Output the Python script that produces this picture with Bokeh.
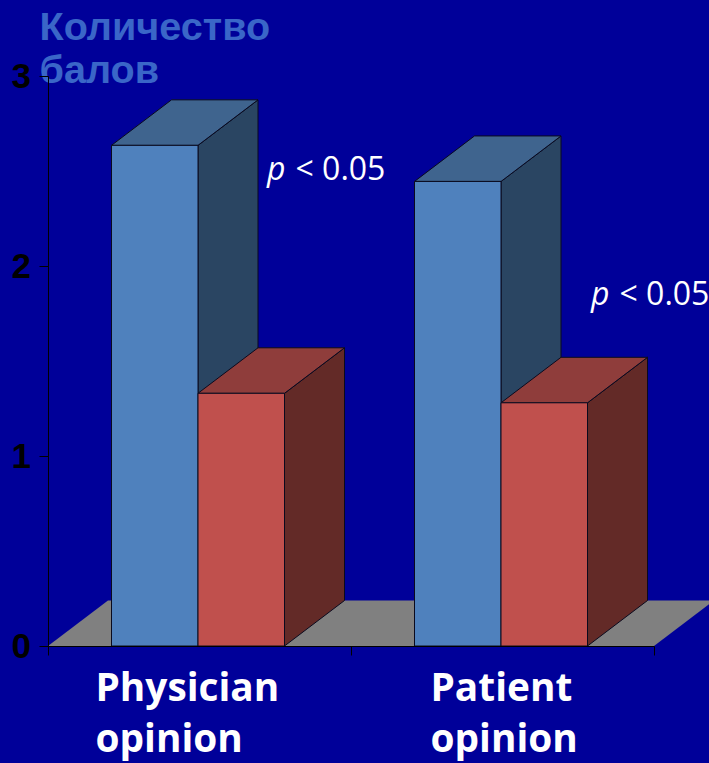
from bokeh.plotting import figure
from bokeh.embed import file_html
from bokeh.resources import INLINE
from bokeh.models import Label, Range1d, FixedTicker, LinearAxis, GlobalInlineStyleSheet

categories = ["Physician\nopinion", "Patient\nopinion"]
blue_values = [2.635, 2.445]
red_values = [1.33, 1.28]
y_ticks = [0, 1, 2, 3]
x_ticks = [0, 1, 2]
y_title = ["Количество", "балов"]
p_labels = ["p", "< 0.05"]

BG = "#000099"
PX_X = 303
PX_Y = 190
LEFT = 47.5
BASE = 645.5
def dx(px): return (px - LEFT) / PX_X
def dy(px): return (BASE - px) / PX_Y

BAR_W = 86.5 / PX_X
GAP = 63.5 / PX_X
DX = 60 / PX_X
DY = 45.5 / PX_Y

p = figure(width=709, height=763, output_backend="svg", toolbar_location=None,
           x_range=Range1d(dx(0), dx(709)), y_range=Range1d(dy(763), dy(0)),
           background_fill_color=BG, border_fill_color=BG, outline_line_color=None,
           min_border_left=0, min_border_right=0, min_border_top=0, min_border_bottom=0,
           x_axis_type=None, y_axis_type=None)
p.grid.visible = False
p.stylesheets = [GlobalInlineStyleSheet(css=f"html,body{{margin:0;padding:0;background:{BG};overflow:hidden}}")]

p.patch([0, DX, 2 + DX, 2], [0, DY, DY, 0], fill_color="#808080", line_color=None)

def box(x0, h, front, top, side):
    x1 = x0 + BAR_W
    p.patch([x1, x1 + DX, x1 + DX, x1], [0, DY, h + DY, h],
            fill_color=side, line_color="#0a0a1e", line_width=1)
    p.patch([x0, x0 + DX, x1 + DX, x1], [h, h + DY, h + DY, h],
            fill_color=top, line_color="#0a0a1e", line_width=1)
    p.quad(left=x0, right=x1, bottom=0, top=h,
           fill_color=front, line_color="#0a0a1e", line_width=1)

for i in range(2):
    x0 = i + GAP
    box(x0, blue_values[i], "#4f81bd", "#3f648e", "#2a4562")
    box(x0 + BAR_W, red_values[i], "#c0504d", "#8f3d3b", "#632a27")

ya = LinearAxis(fixed_location=0, ticker=FixedTicker(ticks=y_ticks), bounds=(0, 3),
                major_tick_in=0, major_tick_out=9, minor_tick_line_color=None,
                axis_line_color="black", major_tick_line_color="black",
                major_label_standoff=8, major_label_text_font="Liberation Sans",
                major_label_text_font_style="bold", major_label_text_font_size="35px",
                major_label_text_color="black", level="overlay")
p.add_layout(ya, "left")

xa = LinearAxis(fixed_location=0, ticker=FixedTicker(ticks=x_ticks), bounds=(0, 2),
                major_tick_in=0, major_tick_out=9, minor_tick_line_color=None,
                axis_line_color="black", major_tick_line_color="black",
                major_label_overrides={t: "" for t in x_ticks}, level="overlay")
p.add_layout(xa, "below")

def txt(text, px, py, size, color="white", font="Open Sans", style="normal"):
    p.add_layout(Label(x=dx(px), y=dy(py), text=text, text_font=font, text_font_size=size,
                       text_font_style=style, text_color=color, text_baseline="alphabetic",
                       text_align="left"))

for t, py in zip(y_title, [25.5, 68.5]):
    txt(t, 39, py, "39.6px", "#3a66c8", "Liberation Sans", "bold")

for i, c in enumerate(categories):
    a, b = c.split("\n")
    txt(a, [95, 430][i], 685, "38.8px", style="bold")
    txt(b, [95, 430][i], 736, "38.8px", style="bold")

for (px, py) in [(266.5, 167), (590.5, 292)]:
    txt(p_labels[0], px, py, "32px", style="italic")
    txt(p_labels[1], px + 28.5, py, "32px")

open("out.html", "w").write(file_html(p, INLINE))
